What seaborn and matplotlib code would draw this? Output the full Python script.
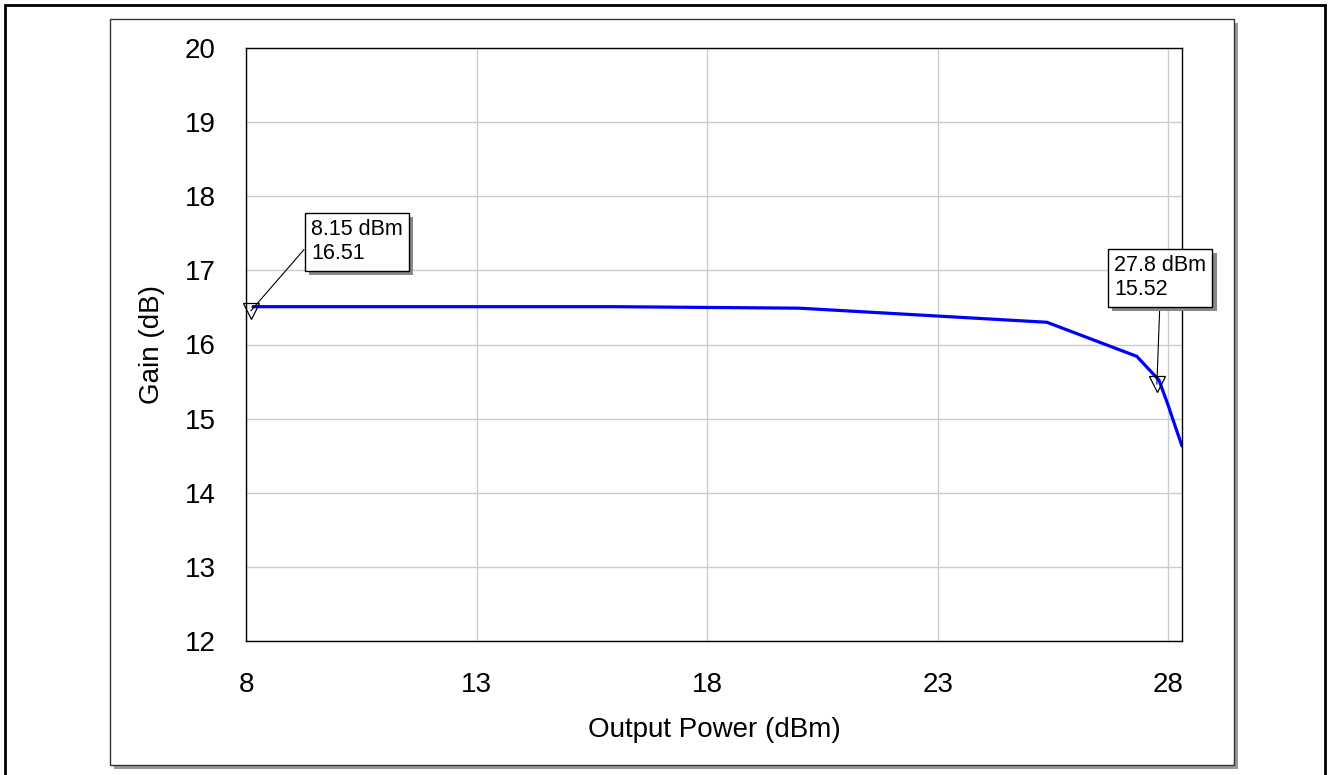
import pandas as pd
import matplotlib
matplotlib.use("Agg")
import matplotlib.pyplot as plt
import matplotlib.patheffects as pe
from matplotlib.patches import Rectangle
from matplotlib.transforms import offset_copy
import seaborn as sns

# gain compression curve
pout = [8.15, 10, 12, 14, 16, 18, 20.0, 25.37, 27.32, 27.8, 28.0, 28.08, 28.3]
gain = [16.51, 16.51, 16.51, 16.51, 16.51, 16.50, 16.49, 16.30, 15.84, 15.52, 15.18, 15.03, 14.63]

# markers
mk_x = [8.15, 27.8]
mk_y = [16.51, 15.52]
mk_text = ["8.15 dBm\n16.51", "27.8 dBm\n15.52"]

xticks = [8, 13, 18, 23, 28]
yticks = [12, 13, 14, 15, 16, 17, 18, 19, 20]

sns.set_style("whitegrid")
plt.rcParams['font.family'] = ['Liberation Sans', 'DejaVu Sans']
plt.rcParams['text.color'] = 'black'
plt.rcParams['axes.labelcolor'] = 'black'

fig = plt.figure(figsize=(13.3, 7.75), dpi=100)
W, H = 1330, 775

# outer black border
fig.patches.append(Rectangle((5 / W, -0.01), 1320 / W, 1.01 - 5 / H, transform=fig.transFigure,
                             fill=False, edgecolor="black", lw=2, zorder=-3))
# inner frame with shadow
fig.patches.append(Rectangle((114 / W, (775 - 769) / H), 1124 / W, 746 / H, transform=fig.transFigure,
                             facecolor="#999999", edgecolor="none", zorder=-2))
fig.patches.append(Rectangle((110 / W, (775 - 765) / H), 1124 / W, 746 / H, transform=fig.transFigure,
                             facecolor="white", edgecolor="#333333", lw=1, zorder=-1))

ax = fig.add_axes([246 / W, (775 - 641) / H, (1182 - 246) / W, (641 - 48) / H])

df = pd.DataFrame({"Output Power (dBm)": pout, "Gain (dB)": gain})
sns.lineplot(data=df, x="Output Power (dBm)", y="Gain (dB)", ax=ax, color="#0000ff", lw=2.3,
             sort=False, zorder=3)

ax.set_xlim(8, 28.3)
ax.set_ylim(12, 20)
ax.set_xticks(xticks)
ax.set_yticks(yticks)
ax.grid(True, color="#cccccc", lw=1)
for s in ax.spines.values():
    s.set_color("black")
    s.set_linewidth(1)
ax.tick_params(length=0, labelsize=20, pad=22, colors="black")
ax.set_xlabel("Output Power (dBm)", fontsize=20, labelpad=14)
ax.set_ylabel("Gain (dB)", fontsize=20, labelpad=14)

# marker triangles sit just below the point
tr = offset_copy(ax.transData, fig=fig, x=-1.5, y=-3, units="points")
ax.plot(mk_x, mk_y, ls="none", marker="v", ms=12, mfc="none", mec="black", mew=0.9,
        transform=tr, zorder=4, clip_on=False)

box_pos = [(311, 775 - 219), (1114, 775 - 255)]
box_rel = [(0, 0.5), (0.5, 0)]
for x, y, t, (bx, by), rp in zip(mk_x, mk_y, mk_text, box_pos, box_rel):
    a = ax.annotate(t, xy=(x, y), xycoords=tr, xytext=(bx, by), textcoords="figure pixels",
                    ha="left", va="top", fontsize=15.5, linespacing=1.2,
                    bbox=dict(boxstyle="square,pad=0.3", fc="white", ec="black", lw=1),
                    arrowprops=dict(arrowstyle="-", color="black", lw=0.8, shrinkA=0, shrinkB=0,
                                    relpos=rp),
                    zorder=5)
    a.get_bbox_patch().set_path_effects([
        pe.SimplePatchShadow(offset=(3, -3), shadow_rgbFace="#888888", alpha=1.0),
        pe.Normal()])

fig.savefig("out.png", dpi=100)
